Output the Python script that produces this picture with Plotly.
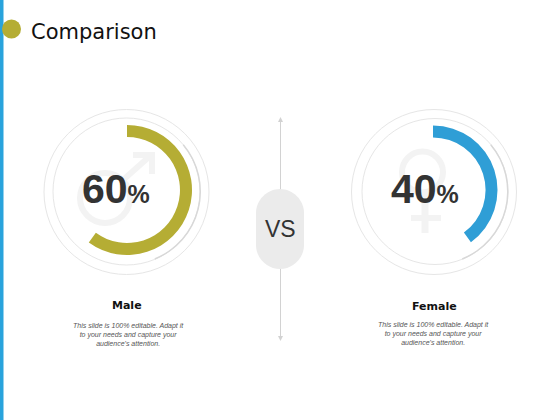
import plotly.graph_objects as go

W, H = 560, 420

# data
categories = ['Male', 'Female']
shares = [60, 40]
colors = ['#b5ad34', '#2f9ed6']
caption = "This slide is 100% editable. Adapt it<br>to your needs and capture your<br>audience's attention."


def px(x):
    return x / W


def py(y):
    return 1 - y / H


def domain(cx, cy, r):
    return dict(x=[px(cx - r), px(cx + r)], y=[py(cy + r), py(cy - r)])


def circle(cx, cy, r, color, width=1, fill=None):
    return dict(type='circle', xref='paper', yref='paper',
                x0=px(cx - r), x1=px(cx + r), y0=py(cy + r), y1=py(cy - r),
                line=dict(color=color, width=width), fillcolor=fill, layer='below')


def seg(x0, y0, x1, y1, color, width):
    return dict(type='line', xref='paper', yref='paper',
                x0=px(x0), x1=px(x1), y0=py(y0), y1=py(y1),
                line=dict(color=color, width=width), layer='below')


def poly(points, color):
    d = 'M ' + ' L '.join(f'{px(x):.5f},{py(y):.5f}' for x, y in points) + ' Z'
    return dict(type='path', xref='paper', yref='paper', path=d,
                fillcolor=color, line=dict(width=0), layer='below')


def text(x, y, s, size, color='#333333', family='Liberation Sans', anchor='center'):
    return dict(x=px(x), y=py(y), xref='paper', yref='paper', text=s, showarrow=False,
                xanchor=anchor, yanchor='middle', align='center',
                font=dict(size=size, color=color, family=family))


fig = go.Figure()

# soft shadow on the inner ring, then the two progress arcs
for cx, cy in [(127.5, 191.5), (435, 191.5)]:
    fig.add_trace(go.Pie(values=[30, 70], domain=domain(cx, cy, 73.5), hole=0.98, sort=False,
                         direction='clockwise', rotation=50, textinfo='none', hoverinfo='skip',
                         marker=dict(colors=['#d8d8d8', 'rgba(0,0,0,0)'], line=dict(width=0))))

centers = [(127, 190, 65), (433, 190, 64.5)]
for (cx, cy, r), share, color in zip(centers, shares, colors):
    fig.add_trace(go.Pie(values=[share, 100 - share], domain=domain(cx, cy, r), hole=0.815,
                         sort=False, direction='clockwise', rotation=0, textinfo='none',
                         hoverinfo='skip',
                         marker=dict(colors=[color, 'rgba(0,0,0,0)'], line=dict(width=0))))

faint = '#f3f3f3'
ring = '#e6e6e6'
pill_l, pill_r, pill_t, pill_b = 256, 304, 189, 269
k = 13
pill = (f'M {px(pill_l)},{py(pill_t + 24)} '
        f'C {px(pill_l)},{py(pill_t + 24 - k)} {px(pill_l + 24 - k)},{py(pill_t)} {px(280)},{py(pill_t)} '
        f'C {px(pill_r - 24 + k)},{py(pill_t)} {px(pill_r)},{py(pill_t + 24 - k)} {px(pill_r)},{py(pill_t + 24)} '
        f'L {px(pill_r)},{py(pill_b - 24)} '
        f'C {px(pill_r)},{py(pill_b - 24 + k)} {px(pill_r - 24 + k)},{py(pill_b)} {px(280)},{py(pill_b)} '
        f'C {px(pill_l + 24 - k)},{py(pill_b)} {px(pill_l)},{py(pill_b - 24 + k)} {px(pill_l)},{py(pill_b - 24)} Z')

shapes = [
    # side bar and title dot
    dict(type='rect', xref='paper', yref='paper', x0=0, x1=px(3.5), y0=0, y1=1,
         fillcolor='#29a3dc', line=dict(width=0), layer='below'),
    circle(11.5, 29, 9.5, '#b5ad34', 0, '#b5ad34'),
    # rings
    circle(126.5, 192, 82.5, ring),
    circle(126.5, 191.5, 73.5, ring),
    circle(434, 192, 82.5, ring),
    circle(435, 191.5, 73, ring),
    # male sign
    circle(105, 198, 25, faint, 6),
    seg(123, 180, 150, 156, faint, 6),
    poly([(133, 152), (155, 152), (155, 174), (149, 174), (149, 158), (133, 158)], faint),
    # female sign
    circle(422.5, 172, 20.5, faint, 6),
    seg(425, 193, 425, 233, faint, 7),
    seg(411, 218, 441, 218, faint, 6),
    # vs arrow
    seg(280.5, 120, 280.5, 338, '#d2d2d2', 1),
    poly([(280.5, 117), (278, 122), (283, 122)], '#d2d2d2'),
    poly([(280.5, 341), (278, 336), (283, 336)], '#d2d2d2'),
    dict(type='path', xref='paper', yref='paper', path=pill, fillcolor='#ebebeb',
         line=dict(width=0), layer='below'),
]

annotations = [
    text(29, 32, 'Comparison', 21, '#111111', 'DejaVu Sans', 'left'),
    text(280, 229, 'VS', 23),
    text(116, 189.5, f'<b>{shares[0]}<span style="font-size:25px">%</span></b>', 41),
    text(424.5, 189.5, f'<b>{shares[1]}<span style="font-size:25px">%</span></b>', 41),
    text(127, 305, f'<b>{categories[0]}</b>', 11, '#111111', 'DejaVu Sans'),
    text(434, 306.5, f'<b>{categories[1]}</b>', 11, '#111111', 'DejaVu Sans'),
    text(128, 334, f'<i>{caption}</i>', 7, '#555555'),
    text(433, 333.5, f'<i>{caption}</i>', 7, '#555555'),
]

fig.update_layout(width=W, height=H, margin=dict(l=0, r=0, t=0, b=0), showlegend=False,
                  paper_bgcolor='white', plot_bgcolor='white',
                  shapes=shapes, annotations=annotations)

fig.write_html("out.html", config=dict(displayModeBar=False),
               post_script="document.body.style.margin='0';")
